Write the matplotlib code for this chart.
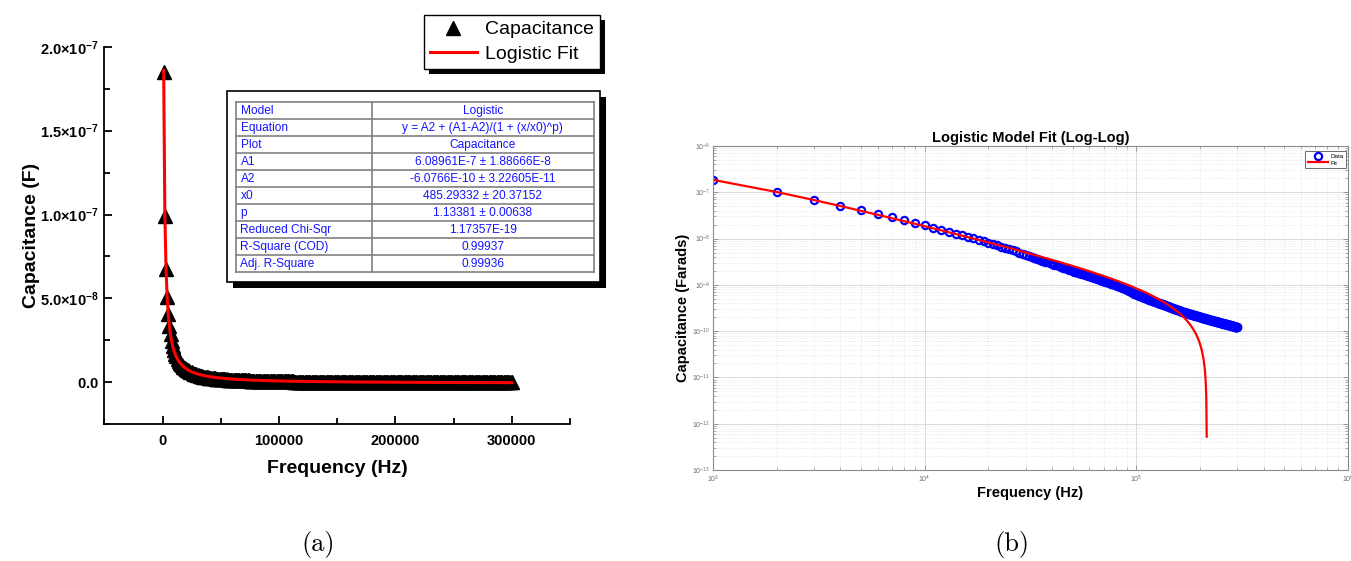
import numpy as np
import matplotlib.pyplot as plt
from matplotlib.patches import Rectangle
from matplotlib.ticker import MultipleLocator, FuncFormatter, LogLocator, NullFormatter

plt.rcParams['font.family'] = ['Liberation Sans', 'DejaVu Sans']
plt.rcParams['mathtext.fontset'] = 'custom'
plt.rcParams['mathtext.rm'] = 'Liberation Sans'
plt.rcParams['mathtext.bf'] = 'Liberation Sans:bold'
plt.rcParams['mathtext.it'] = 'Liberation Sans:italic'

# measured capacitance (nF), one point every 1 kHz from 1 kHz to 300 kHz
cap_nF = [
    185, 99.0, 67.5, 50.6, 40.5, 33.8, 28.6, 24.6, 21.6, 19.3,
    17.18, 15.44, 14.00, 12.79, 11.75, 10.86, 10.08, 9.40, 8.71, 8.10,
    7.56, 7.09, 6.66, 6.27, 5.92, 5.60, 5.27, 4.97, 4.70, 4.45,
    4.23, 4.02, 3.82, 3.64, 3.48, 3.33, 3.18, 3.05, 2.93, 2.82,
    2.72, 2.62, 2.52, 2.44, 2.35, 2.28, 2.20, 2.13, 2.07, 2.00,
    1.94, 1.89, 1.83, 1.78, 1.731, 1.685, 1.641, 1.599, 1.558, 1.519,
    1.482, 1.446, 1.412, 1.379, 1.347, 1.316, 1.287, 1.259, 1.231, 1.205,
    1.180, 1.155, 1.131, 1.108, 1.086, 1.065, 1.044, 1.024, 1.005, 0.986,
    0.968, 0.950, 0.9256, 0.9021, 0.8795, 0.8576, 0.8366, 0.8163, 0.7967, 0.7778,
    0.7596, 0.7419, 0.7249, 0.7084, 0.6925, 0.6771, 0.6622, 0.6478, 0.6338, 0.6203,
    0.6072, 0.5945, 0.5822, 0.5700, 0.5609, 0.5521, 0.5434, 0.5350, 0.5268, 0.5188,
    0.5110, 0.5033, 0.4959, 0.4886, 0.4815, 0.4746, 0.4678, 0.4612, 0.4547, 0.4484,
    0.4422, 0.4361, 0.4302, 0.4244, 0.4187, 0.4131, 0.4077, 0.4024, 0.3971, 0.3920,
    0.3870, 0.3821, 0.3773, 0.3726, 0.3679, 0.3634, 0.3590, 0.3546, 0.3503, 0.3461,
    0.3420, 0.3380, 0.3340, 0.3301, 0.3263, 0.3226, 0.3189, 0.3153, 0.3117, 0.3082,
    0.3048, 0.3014, 0.2981, 0.2949, 0.2917, 0.2886, 0.2855, 0.2825, 0.2795, 0.2766,
    0.2737, 0.2709, 0.2681, 0.2654, 0.2627, 0.2600, 0.2579, 0.2558, 0.2537, 0.2517,
    0.2497, 0.2477, 0.2458, 0.2439, 0.2420, 0.2401, 0.2383, 0.2365, 0.2347, 0.2329,
    0.2312, 0.2295, 0.2278, 0.2261, 0.2245, 0.2228, 0.2212, 0.2196, 0.2181, 0.2165,
    0.2150, 0.2135, 0.2120, 0.2105, 0.2090, 0.2076, 0.2062, 0.2047, 0.2033, 0.2019,
    0.2006, 0.1992, 0.1979, 0.1966, 0.1953, 0.1940, 0.1927, 0.1914, 0.1902, 0.1890,
    0.1877, 0.1865, 0.1853, 0.1841, 0.1830, 0.1819, 0.1809, 0.1799, 0.1788, 0.1778,
    0.1768, 0.1759, 0.1749, 0.1739, 0.1729, 0.1720, 0.1710, 0.1701, 0.1692, 0.1683,
    0.1674, 0.1665, 0.1656, 0.1647, 0.1638, 0.1630, 0.1621, 0.1613, 0.1604, 0.1596,
    0.1588, 0.1580, 0.1572, 0.1564, 0.1556, 0.1548, 0.1540, 0.1532, 0.1525, 0.1517,
    0.1510, 0.1502, 0.1495, 0.1488, 0.1480, 0.1473, 0.1466, 0.1459, 0.1452, 0.1445,
    0.1439, 0.1432, 0.1425, 0.1418, 0.1412, 0.1405, 0.1399, 0.1392, 0.1386, 0.1380,
    0.1373, 0.1367, 0.1361, 0.1355, 0.1349, 0.1343, 0.1337, 0.1331, 0.1325, 0.1318,
    0.1313, 0.1307, 0.1301, 0.1296, 0.1290, 0.1284, 0.1279, 0.1273, 0.1268, 0.1262,
    0.1257, 0.1252, 0.1246, 0.1241, 0.1236, 0.1231, 0.1225, 0.1220, 0.1215, 0.1210,
]
freq_khz = np.arange(1, len(cap_nF) + 1)

# logistic fit parameters (from the results table)
A1 = 6.08961e-7
A2 = -6.0766e-10
x0 = 485.29332
p = 1.13381

table_keys = ['Model', 'Equation', 'Plot', 'A1', 'A2', 'x0', 'p',
              'Reduced Chi-Sqr', 'R-Square (COD)', 'Adj. R-Square']
table_vals = ['Logistic', 'y = A2 + (A1-A2)/(1 + (x/x0)^p)', 'Capacitance',
              '6.08961E-7 ± 1.88666E-8', '-6.0766E-10 ± 3.22605E-11',
              '485.29332 ± 20.37152', '1.13381 ± 0.00638', '1.17357E-19',
              '0.99937', '0.99936']

freq = freq_khz * 1000.0
cap = np.array(cap_nF) * 1e-9
fit = A2 + (A1 - A2) / (1 + (freq / x0) ** p)
fit_pos = np.where(fit > 0, fit, np.nan)

W, H = 1351, 561
fig = plt.figure(figsize=(W / 100, H / 100), dpi=100)

# ---------- (a) linear plot ----------
ax1 = fig.add_axes([104.3 / W, 1 - 424.3 / H, (570 - 104.3) / W, (424.3 - 46.7) / H])
ax1.plot(freq, cap, ls='none', marker='^', ms=10.5, color='k', label='Capacitance', zorder=2)
ax1.plot(freq, fit, color='red', lw=2.2, label='Logistic Fit', zorder=3)
ax1.set_xlim(-50000, 350000)
ax1.set_ylim(-2.5e-8, 2.0e-7)
for s in ['top', 'right']:
    ax1.spines[s].set_visible(False)
for s in ['left', 'bottom']:
    ax1.spines[s].set_linewidth(1.3)
ax1.xaxis.set_major_locator(MultipleLocator(100000))
ax1.xaxis.set_minor_locator(MultipleLocator(50000))
ax1.yaxis.set_major_locator(MultipleLocator(5e-8))
ax1.yaxis.set_minor_locator(MultipleLocator(2.5e-8))


def sci_fmt(v, pos):
    if abs(v) < 1e-12:
        return r'$\mathbf{0.0}$'
    e = int(np.floor(np.log10(abs(v)) + 1e-9))
    m = v / 10 ** e
    return r'$\mathbf{%.1f{\times}10^{%d}}$' % (m, e)


ax1.yaxis.set_major_formatter(FuncFormatter(sci_fmt))
ax1.tick_params(which='both', direction='in', width=1.3)
ax1.tick_params(which='major', length=6)
ax1.tick_params(which='minor', length=4)
ax1.tick_params(axis='x', pad=7, labelsize=10.5)
ax1.tick_params(axis='y', pad=4, labelsize=10.5)
for t in ax1.get_xticklabels():
    t.set_fontweight('bold')
ax1.set_xlabel('Frequency (Hz)', fontsize=14, fontweight='bold')
ax1.set_ylabel('Capacitance (F)', fontsize=14, fontweight='bold')
ax1.xaxis.set_label_coords(0.5, -0.095)
ax1.yaxis.set_label_coords(-0.138, 0.5)

# ---------- (b) log-log plot ----------
ax2 = fig.add_axes([713 / W, 1 - 470 / H, 635 / W, 324 / H])
ax2.loglog(freq, cap, ls='none', marker='o', mfc='none', mec='blue', mew=1.6, ms=5.2, label='Data')
ax2.loglog(freq, fit_pos, color='red', lw=1.6, label='Fit')
ax2.set_xlim(1e3, 1e6)
ax2.set_ylim(1e-13, 1e-6)
ax2.xaxis.set_major_locator(LogLocator(base=10, numticks=20))
ax2.yaxis.set_major_locator(LogLocator(base=10, numticks=20))
ax2.xaxis.set_minor_locator(LogLocator(base=10, subs=np.arange(2, 10), numticks=20))
ax2.yaxis.set_minor_locator(LogLocator(base=10, subs=np.arange(2, 10), numticks=20))
ax2.xaxis.set_minor_formatter(NullFormatter())
ax2.yaxis.set_minor_formatter(NullFormatter())
ax2.grid(which='major', color='#d4d4d4', lw=0.6, ls='-')
ax2.grid(which='minor', color='#dedede', lw=0.5, ls=':')
ax2.set_axisbelow(True)
for s in ax2.spines.values():
    s.set_color('#8a8a8a')
    s.set_linewidth(0.8)
ax2.tick_params(which='both', direction='in', top=True, right=True,
                color='#8a8a8a', labelcolor='#6e6e6e', labelsize=5)
ax2.tick_params(axis='x', pad=3)
ax2.tick_params(axis='y', pad=2)
ax2.tick_params(which='major', length=3.5, width=0.6)
ax2.tick_params(which='minor', length=2, width=0.5)
ax2.set_title('Logistic Model Fit (Log-Log)', fontsize=10.5, fontweight='bold', pad=3)
ax2.set_xlabel('Frequency (Hz)', fontsize=10.5, fontweight='bold')
ax2.set_ylabel('Capacitance (Farads)', fontsize=10.5, fontweight='bold')
ax2.xaxis.set_label_coords(0.5, -0.05)
ax2.yaxis.set_label_coords(-0.037, 0.5)

# ---------- overlay in pixel coordinates: legend, table, captions ----------
ov = fig.add_axes([0, 0, 1, 1], zorder=10)
ov.set_xlim(0, W)
ov.set_ylim(H, 0)
ov.axis('off')
ov.patch.set_visible(False)

leg2 = ax2.legend(loc='upper right', bbox_to_anchor=(1346, 151), bbox_transform=ov.transData,
                  borderaxespad=0, fontsize=4.5, frameon=True, fancybox=False, edgecolor='#555555',
                  framealpha=1, handlelength=3.2, handletextpad=0.4, borderpad=0.4, labelspacing=0.2)
leg2.get_frame().set_linewidth(0.6)

h, l = ax1.get_legend_handles_labels()
leg1 = ov.legend(h, l, loc='upper right', bbox_to_anchor=(600, 15), bbox_transform=ov.transData,
                 borderaxespad=0, fontsize=14, frameon=True, fancybox=False, edgecolor='k',
                 framealpha=1, handlelength=2.4, handletextpad=0.45, borderpad=0.3, labelspacing=0.35)
leg1.get_frame().set_linewidth(1.0)
leg1.set_zorder(6)

# table with drop shadow
tx0, ty0, tx1, ty1 = 227, 91, 600, 282
ov.add_patch(Rectangle((tx0 + 6, ty0 + 6), tx1 - tx0, ty1 - ty0, fc='k', ec='none', zorder=3))
ov.add_patch(Rectangle((tx0, ty0), tx1 - tx0, ty1 - ty0, fc='white', ec='k', lw=1.2, zorder=4))
gx0, gx1, gxm = 236, 594, 371.7
gy0, rh = 102, 17
n = len(table_keys)
for i in range(n + 1):
    ov.plot([gx0, gx1], [gy0 + i * rh] * 2, color='#808080', lw=1.2, zorder=5)
for gx in [gx0, gxm, gx1]:
    ov.plot([gx, gx], [gy0, gy0 + n * rh], color='#808080', lw=1.2, zorder=5)
for i, (k, v) in enumerate(zip(table_keys, table_vals)):
    yc = gy0 + (i + 0.5) * rh
    ov.text(gx0 + 4.5, yc, k, color='#1414ff', fontsize=8.6, ha='left', va='center', zorder=6)
    ov.text((gxm + gx1) / 2, yc, v, color='#1414ff', fontsize=8.6, ha='center', va='center', zorder=6)

ov.text(318, 545, '(a)', fontfamily='cmr10', fontsize=19, ha='center', va='center')
ov.text(1012, 545, '(b)', fontfamily='cmr10', fontsize=19, ha='center', va='center')

# legend shadow, placed from the drawn legend frame
fig.canvas.draw()
bb = leg1.get_frame().get_window_extent()
(lx0, ly1), (lx1, ly0) = ov.transData.inverted().transform([[bb.x0, bb.y0], [bb.x1, bb.y1]])
ov.add_patch(Rectangle((lx0 + 5, ly0 + 5), lx1 - lx0, ly1 - ly0, fc='k', ec='none', zorder=5))

fig.savefig('out.png', dpi=100)
